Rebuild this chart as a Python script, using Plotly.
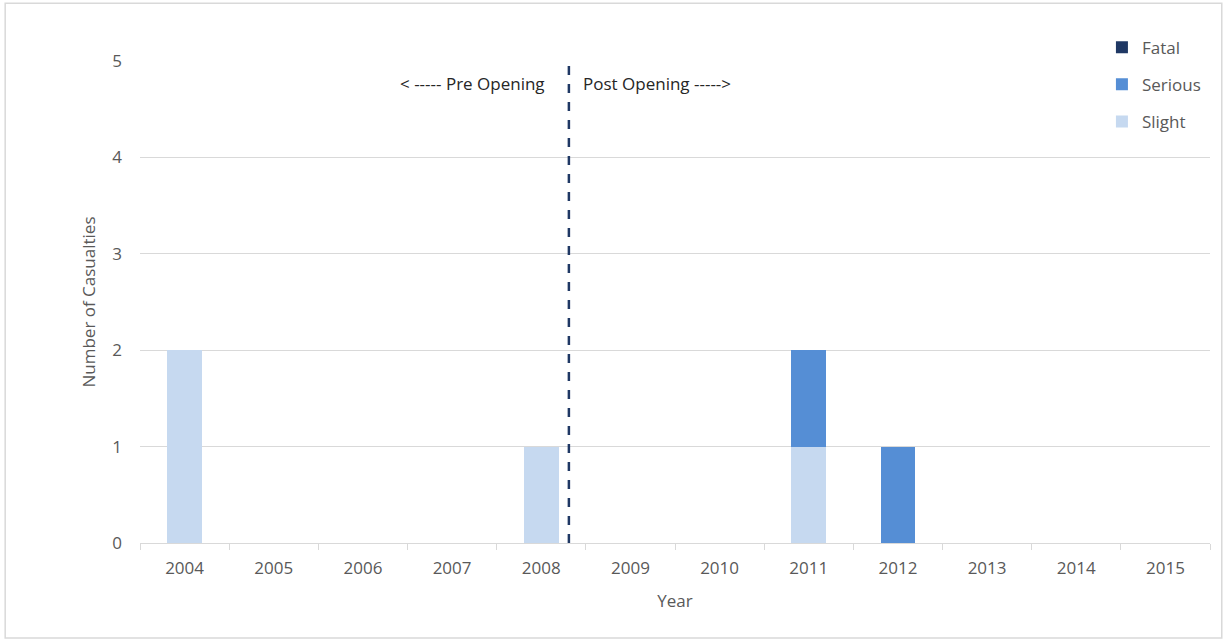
import plotly.graph_objects as go

years = ["2004", "2005", "2006", "2007", "2008", "2009", "2010",
         "2011", "2012", "2013", "2014", "2015"]
slight = [2, 0, 0, 0, 1, 0, 0, 1, 0, 0, 0, 0]
serious = [0, 0, 0, 0, 0, 0, 0, 1, 1, 0, 0, 0]
fatal = [0, 0, 0, 0, 0, 0, 0, 0, 0, 0, 0, 0]

opening_pos = 4.31  # opening date, between 2008 and 2009 (category index)

FONT = "Open Sans"
TXT = "#595959"
FS = 17

fig = go.Figure()
for rank, (name, vals, col) in zip([3, 2, 1], [("Slight", slight, "#c6d9f0"),
                                             ("Serious", serious, "#558ed5"),
                                             ("Fatal", fatal, "#1f3864")]):
    fig.add_trace(go.Bar(x=years, y=vals, name=name, marker_color=col,
                         marker_line_width=0, legendgroup=name,
                         legendrank=rank))

fig.update_layout(
    barmode="stack",
    bargap=0.61,
    width=1225, height=640,
    margin=dict(l=140, r=15, t=61, b=97),
    paper_bgcolor="white", plot_bgcolor="white",
    font=dict(family=FONT, size=FS, color=TXT),
    legend=dict(x=0.899, y=1.065, xanchor="left", yanchor="top",
                traceorder="grouped", tracegroupgap=12,
                font=dict(size=FS, color=TXT), itemwidth=30),
    xaxis=dict(type="category", tickson="boundaries", ticks="outside",
               ticklen=6, tickcolor="#d9d9d9", showline=True,
               linecolor="#d9d9d9", linewidth=1, showgrid=False,
               ticklabelstandoff=10,
               title=dict(text="Year", standoff=16, font=dict(size=FS, color=TXT))),
    yaxis=dict(range=[0, 5], dtick=1, showgrid=True, gridcolor="#d9d9d9",
               zeroline=False, showline=False, ticks="", ticklabelstandoff=17,
               title=dict(text="Number of Casualties", standoff=12,
                          font=dict(size=FS, color=TXT))),
)

fig.add_shape(type="line", xref="x", yref="y", x0=opening_pos, x1=opening_pos,
              y0=0, y1=5, line=dict(color="#1f3864", width=2.5, dash="dash"))

fig.add_annotation(x=opening_pos, y=4.77, xref="x", yref="y", text="< ----- Pre Opening",
                   showarrow=False, xanchor="right", xshift=-22,
                   font=dict(size=FS, color="#262626"))
fig.add_annotation(x=opening_pos, y=4.77, xref="x", yref="y", text="Post Opening ----->",
                   showarrow=False, xanchor="left", xshift=12,
                   font=dict(size=FS, color="#262626"))

# outer chart border
fig.add_shape(type="rect", xref="paper", yref="paper",
              x0=-0.126, x1=1.011, y0=-0.197, y1=1.12,
              line=dict(color="#d9d9d9", width=1.5), layer="below")

fig.write_html("out.html")
